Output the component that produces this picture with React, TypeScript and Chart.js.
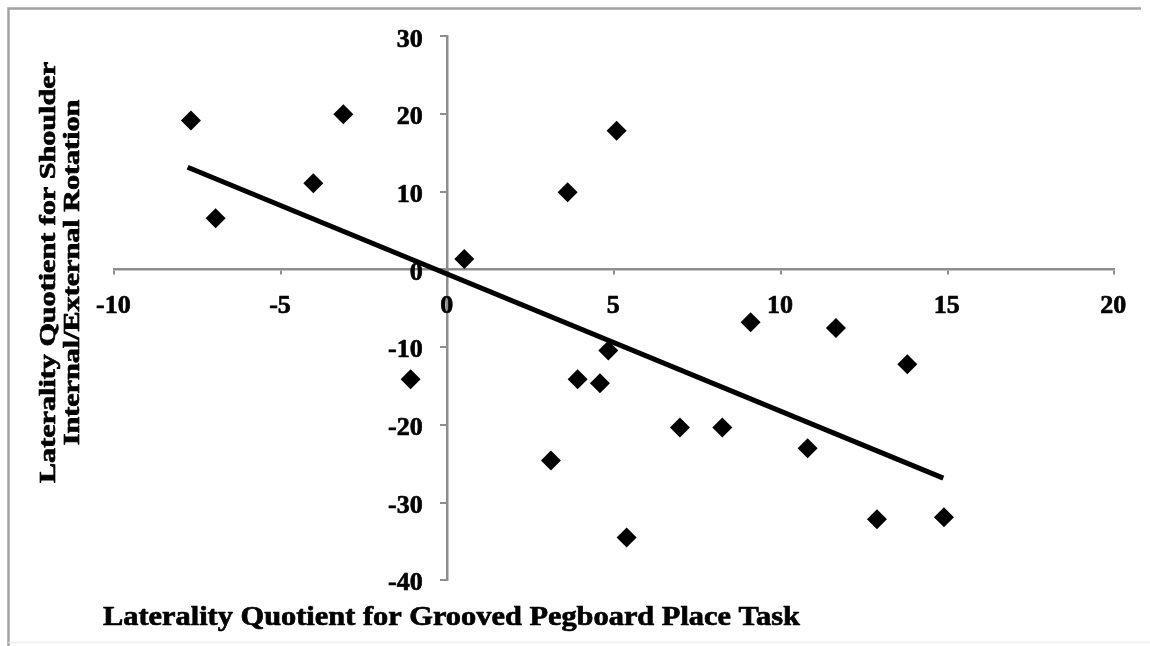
import React, { useEffect, useRef } from "react";
import { Chart, registerables } from "chart.js";

Chart.register(...registerables);

// Observations: laterality quotient (pegboard place task) vs. shoulder rotation
const pegboardLQ: number[] = [
  -7.7, -6.96, -4.03, -3.13, -1.11, 0.5, 3.1, 3.6, 3.9, 4.57, 4.82,
  5.07, 5.37, 6.97, 8.24, 9.09, 10.8, 11.65, 12.88, 13.79, 14.89,
];
const shoulderLQ: number[] = [
  19.15, 6.59, 11.09, 19.97, -14.13, 1.35, -24.61, 9.94, -14.13, -14.65, -10.45,
  17.83, -34.52, -20.36, -20.36, -6.8, -23.01, -7.53, -32.15, -12.2, -31.89,
];

// Linear trend line end points
const trendX: number[] = [-7.8, 14.87];
const trendY: number[] = [13.15, -26.87];

// Axis ticks
const xTicks: number[] = [-10, -5, 0, 5, 10, 15, 20];
const yTicks: number[] = [30, 20, 10, 0, -10, -20, -30, -40];

const xTitle = "Laterality Quotient for Grooved Pegboard Place Task";
const yTitleLines: string[] = [
  "Laterality Quotient for Shoulder",
  "Internal/External Rotation",
];

const SERIF = '"Liberation Serif", "Times New Roman", serif';
const AXIS_GRAY = "#8e8e8e";

// fill + thin stroke gives the heavier bold look
function boldText(ctx: CanvasRenderingContext2D, text: string, x: number, y: number) {
  ctx.strokeText(text, x, y);
  ctx.fillText(text, x, y);
}

const labelsPlugin = {
  id: "crossAxisLabels",
  afterDraw(chart: any) {
    const ctx: CanvasRenderingContext2D = chart.ctx;
    const xs = chart.scales.x;
    const ys = chart.scales.y;
    const x0 = xs.getPixelForValue(0);
    const y0 = ys.getPixelForValue(0);

    ctx.save();
    ctx.fillStyle = "#000";
    ctx.strokeStyle = "#000";
    ctx.lineWidth = 0.7;
    ctx.lineJoin = "round";
    ctx.font = `bold 26px ${SERIF}`;

    // x tick labels, below the horizontal axis
    ctx.textAlign = "center";
    ctx.textBaseline = "middle";
    xTicks.forEach((v) => {
      boldText(ctx, String(v), xs.getPixelForValue(v) - 1, y0 + 36.5);
    });

    // y tick labels, left of the vertical axis
    ctx.textAlign = "right";
    yTicks.forEach((v) => {
      boldText(ctx, String(v), x0 - 25, ys.getPixelForValue(v) + 3.5);
    });

    // horizontal axis title, set wide
    ctx.font = `bold 28px ${SERIF}`;
    ctx.textAlign = "left";
    ctx.textBaseline = "alphabetic";
    const xStretch = 697 / ctx.measureText(xTitle).width;
    ctx.save();
    ctx.translate(103, 625);
    ctx.scale(xStretch, 1);
    boldText(ctx, xTitle, 0, 0);
    ctx.restore();

    // vertical axis title: two rotated lines, set wide
    ctx.font = `bold 23px ${SERIF}`;
    ctx.textAlign = "center";
    const yStretch = 421 / ctx.measureText(yTitleLines[0]).width;
    const baselines = [54.5, 78.5];
    yTitleLines.forEach((line, i) => {
      ctx.save();
      ctx.translate(baselines[i], 272.5);
      ctx.rotate(-Math.PI / 2);
      ctx.scale(yStretch, 1);
      boldText(ctx, line, 0, 0);
      ctx.restore();
    });

    // outer frame
    ctx.strokeStyle = "#a3a3a3";
    ctx.lineWidth = 2.5;
    ctx.lineJoin = "miter";
    ctx.beginPath();
    ctx.moveTo(8.5, 646);
    ctx.lineTo(8.5, 8.5);
    ctx.lineTo(1141, 8.5);
    ctx.stroke();
    ctx.strokeStyle = "#ececec";
    ctx.lineWidth = 1.5;
    ctx.beginPath();
    ctx.moveTo(8.5, 642.5);
    ctx.lineTo(1150, 642.5);
    ctx.stroke();
    ctx.restore();
  },
};

export default function App() {
  const canvasRef = useRef<HTMLCanvasElement | null>(null);

  useEffect(() => {
    if (!canvasRef.current) return;
    const points = pegboardLQ.map((x, i) => ({ x, y: shoulderLQ[i] }));
    const trend = trendX.map((x, i) => ({ x, y: trendY[i] }));

    const chart = new Chart(canvasRef.current, {
      type: "scatter",
      data: {
        datasets: [
          {
            label: "Participants",
            data: points,
            pointStyle: "rectRot",
            pointRadius: 10,
            pointHoverRadius: 10,
            pointBackgroundColor: "#000",
            pointBorderWidth: 0,
            borderColor: "#000",
            order: 1,
          },
          {
            label: "Linear fit",
            type: "line",
            data: trend,
            borderColor: "#000",
            borderWidth: 5,
            pointRadius: 0,
            fill: false,
            order: 2,
          } as any,
        ],
      },
      options: {
        animation: false,
        responsive: false,
        events: [],
        layout: {
          padding: { left: 114.3, right: 35.7, top: 36.3, bottom: 65.8 },
        },
        plugins: {
          legend: { display: false },
          tooltip: { enabled: false },
          title: { display: false },
        },
        scales: {
          x: {
            type: "linear",
            min: -10,
            max: 20,
            position: { y: 0 } as any,
            ticks: { stepSize: 5, display: false },
            grid: {
              drawOnChartArea: false,
              drawTicks: true,
              tickLength: 4,
              color: AXIS_GRAY,
              lineWidth: 2,
            },
            border: { color: AXIS_GRAY, width: 2.5 },
          },
          y: {
            type: "linear",
            min: -40,
            max: 30,
            position: { x: 0 } as any,
            ticks: { stepSize: 10, display: false },
            grid: {
              drawOnChartArea: false,
              drawTicks: true,
              tickLength: 6,
              color: AXIS_GRAY,
              lineWidth: 2,
            },
            border: { color: AXIS_GRAY, width: 2.5 },
          },
        },
      },
      plugins: [labelsPlugin],
    });

    return () => chart.destroy();
  }, []);

  return (
    <div
      style={{
        position: "absolute",
        left: 0,
        top: 0,
        width: 1150,
        height: 646,
        background: "#fff",
      }}
    >
      <canvas ref={canvasRef} width={1150} height={646} />
    </div>
  );
}
